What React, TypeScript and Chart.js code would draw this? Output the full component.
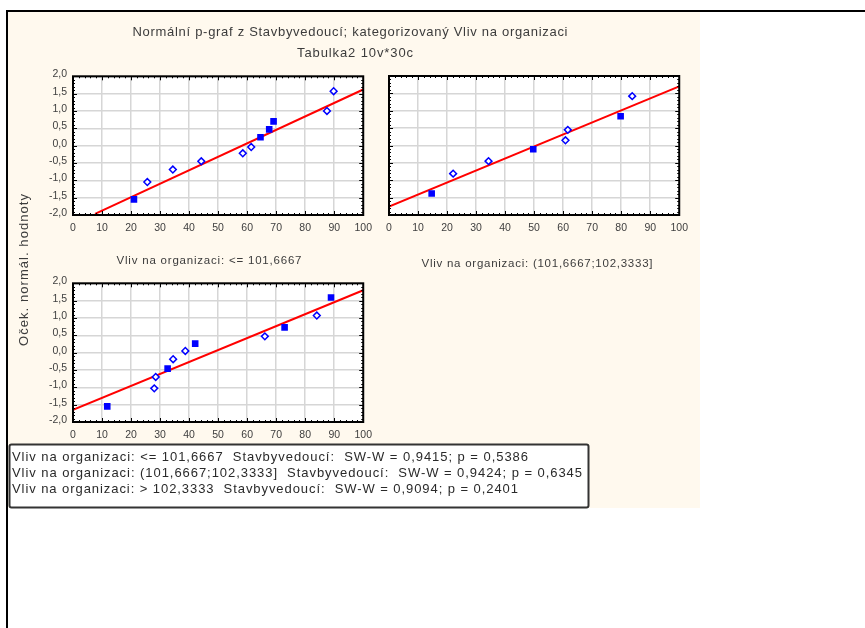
import React, { useEffect, useRef } from "react";
import { Chart, registerables } from "chart.js";
Chart.register(...registerables);

// ---- data ----
const xMin = 0;
const xMax = 100;
const yMin = -2;
const yMax = 2;

// Panel 1: Vliv na organizaci <= 101,6667
const panel1X = [21.0, 25.6, 34.4, 44.2, 58.5, 61.4, 64.6, 67.6, 69.1, 87.5, 89.8];
const panel1Y = [-1.55, -1.05, -0.69, -0.45, -0.22, -0.04, 0.24, 0.47, 0.7, 1.0, 1.57];
const panel1Filled = [1, 0, 0, 0, 0, 0, 1, 1, 1, 0, 0];
const fit1X = [7.6, 100];
const fit1Y = [-1.97, 1.62];

// Panel 2: Vliv na organizaci (101,6667;102,3333]
const panel2X = [14.7, 22.1, 34.3, 49.7, 60.8, 61.6, 79.8, 83.8];
const panel2Y = [-1.38, -0.81, -0.45, -0.11, 0.15, 0.45, 0.84, 1.42];
const panel2Filled = [1, 0, 0, 1, 0, 0, 1, 0];
const fit2X = [0, 100];
const fit2Y = [-1.76, 1.7];

// Panel 3: Vliv na organizaci > 102,3333
const panel3X = [11.8, 28.0, 28.5, 32.6, 34.5, 38.7, 42.1, 66.1, 72.9, 84.0, 88.9];
const panel3Y = [-1.55, -1.03, -0.7, -0.46, -0.19, 0.05, 0.26, 0.47, 0.73, 1.07, 1.59];
const panel3Filled = [1, 0, 0, 1, 0, 0, 1, 0, 1, 0, 1];
const fit3X = [0, 100];
const fit3Y = [-1.65, 1.8];

const titleLine1 = "Normální p-graf z Stavbyvedoucí; kategorizovaný Vliv na organizaci";
const titleLine2 = "Tabulka2 10v*30c";
const subtitle1 = "Vliv na organizaci: <= 101,6667";
const subtitle2 = "Vliv na organizaci: (101,6667;102,3333]";
const yAxisTitle = "Oček. normál. hodnoty";
const legendLines = [
  "Vliv na organizaci: <= 101,6667  Stavbyvedoucí:  SW-W = 0,9415; p = 0,5386",
  "Vliv na organizaci: (101,6667;102,3333]  Stavbyvedoucí:  SW-W = 0,9424; p = 0,6345",
  "Vliv na organizaci: > 102,3333  Stavbyvedoucí:  SW-W = 0,9094; p = 0,2401",
];

const FONT = '"Liberation Sans", Arial, Helvetica, sans-serif';

const framePlugin = {
  id: "frame",
  beforeDraw(chart: any) {
    const { ctx, chartArea } = chart;
    const { left, right, top, bottom } = chartArea;
    ctx.save();
    ctx.fillStyle = "#ffffff";
    ctx.fillRect(left, top, right - left, bottom - top);
    ctx.restore();
  },
  afterDraw(chart: any) {
    const { ctx, chartArea, scales } = chart;
    const { left, right, top, bottom } = chartArea;
    const x = scales.x;
    const y = scales.y;
    ctx.save();
    ctx.strokeStyle = "#000000";
    ctx.lineWidth = 1;
    ctx.beginPath();
    for (let i = 0; i <= 50; i++) {
      const v = xMin + (i * (xMax - xMin)) / 50;
      const px = Math.round(x.getPixelForValue(v)) + 0.5;
      const len = i % 5 === 0 ? 4 : 2;
      ctx.moveTo(px, top);
      ctx.lineTo(px, top + len);
      ctx.moveTo(px, bottom);
      ctx.lineTo(px, bottom - len);
    }
    for (let i = 0; i <= 40; i++) {
      const v = yMin + (i * (yMax - yMin)) / 40;
      const py = Math.round(y.getPixelForValue(v)) + 0.5;
      const len = i % 5 === 0 ? 4 : 2;
      ctx.moveTo(left, py);
      ctx.lineTo(left + len, py);
      ctx.moveTo(right, py);
      ctx.lineTo(right - len, py);
    }
    ctx.stroke();
    ctx.lineWidth = 2;
    ctx.strokeRect(left, top, right - left, bottom - top);
    ctx.restore();
  },
};

type PanelProps = {
  xs: number[];
  ys: number[];
  filled: number[];
  fx: number[];
  fy: number[];
  left: number;
  top: number;
  plotW: number;
  plotH: number;
  showY: boolean;
};

const PAD_LEFT = 40;
const PAD_TOP = 12;
const PAD_RIGHT = 14;
const PAD_BOTTOM = 24;

function Panel({ xs, ys, filled, fx, fy, left, top, plotW, plotH, showY }: PanelProps) {
  const ref = useRef<HTMLCanvasElement | null>(null);
  const w = plotW + PAD_LEFT + PAD_RIGHT;
  const h = plotH + PAD_TOP + PAD_BOTTOM;
  useEffect(() => {
    if (!ref.current) return;
    const chart = new Chart(ref.current, {
      type: "scatter",
      data: {
        datasets: [
          {
            data: xs.map((x, i) => ({ x, y: ys[i] })),
            pointStyle: filled.map((f) => (f ? "rect" : "rectRot")) as any,
            pointRadius: filled.map((f) => (f ? 3.6 : 3.4)) as any,
            backgroundColor: filled.map((f) => (f ? "#0000ff" : "#ffffff")) as any,
            borderColor: "#0000ff",
            borderWidth: 1.5,
            order: 0,
          },
          {
            data: fx.map((x, i) => ({ x, y: fy[i] })),
            showLine: true,
            borderColor: "#ff0000",
            borderWidth: 2,
            pointRadius: 0,
            fill: false,
            order: 1,
          } as any,
        ],
      },
      options: {
        animation: false,
        responsive: false,
        maintainAspectRatio: false,
        layout: { padding: { top: PAD_TOP, right: PAD_RIGHT, left: 0, bottom: 0 } },
        plugins: { legend: { display: false }, tooltip: { enabled: false }, title: { display: false } },
        scales: {
          x: {
            type: "linear",
            min: xMin,
            max: xMax,
            ticks: {
              stepSize: 10,
              maxRotation: 0,
              autoSkip: false,
              padding: 7,
              color: "#404040",
              font: { family: FONT, size: 10.5 },
            },
            grid: { color: "#d6d6d6", lineWidth: 1.5, drawTicks: false },
            border: { display: false },
            afterFit: (s: any) => {
              s.height = PAD_BOTTOM;
            },
          },
          y: {
            type: "linear",
            min: yMin,
            max: yMax,
            ticks: {
              display: showY,
              stepSize: 0.5,
              autoSkip: false,
              padding: 6,
              labelOffset: -2,
              color: "#404040",
              font: { family: FONT, size: 10.5 },
              callback: (v: any) => Number(v).toFixed(1).replace(".", ","),
            },
            grid: { color: "#d6d6d6", lineWidth: 1.5, drawTicks: false },
            border: { display: false },
            afterFit: (s: any) => {
              s.width = PAD_LEFT;
            },
          },
        },
      } as any,
      plugins: [framePlugin],
    });
    return () => chart.destroy();
  }, []);
  return (
    <canvas
      ref={ref}
      width={w}
      height={h}
      style={{ position: "absolute", left: left - PAD_LEFT, top: top - PAD_TOP, width: w, height: h }}
    />
  );
}

const pre: React.CSSProperties = { whiteSpace: "pre" };

export default function App() {
  return (
    <div style={{ position: "absolute", left: 0, top: 0, width: 865, height: 628, overflow: "hidden", background: "#ffffff" }}>
      <div
        style={{
          position: "absolute",
          left: 6,
          top: 10,
          width: 859,
          height: 618,
          borderTop: "2px solid #000",
          borderLeft: "2px solid #000",
          boxSizing: "border-box",
        }}
      />
      <div style={{ position: "absolute", left: 8, top: 12, width: 692, height: 496, background: "#fff9ee" }} />
      <Panel xs={panel1X} ys={panel1Y} filled={panel1Filled} fx={fit1X} fy={fit1Y} left={73} top={76} plotW={292} plotH={139} showY={true} />
      <Panel xs={panel2X} ys={panel2Y} filled={panel2Filled} fx={fit2X} fy={fit2Y} left={389} top={76} plotW={292} plotH={139} showY={false} />
      <Panel xs={panel3X} ys={panel3Y} filled={panel3Filled} fx={fit3X} fy={fit3Y} left={73} top={283} plotW={292} plotH={139} showY={true} />
      <svg
        width={865}
        height={628}
        style={{ position: "absolute", left: 0, top: 0, pointerEvents: "none" }}
        fontFamily={FONT}
      >
        <text x={350} y={36} fontSize={13} fill="#3c3c3c" textAnchor="middle" textLength={435} lengthAdjust="spacing" style={pre}>
          {titleLine1}
        </text>
        <text x={355} y={57} fontSize={13} fill="#3c3c3c" textAnchor="middle" textLength={116} lengthAdjust="spacing" style={pre}>
          {titleLine2}
        </text>
        <text x={209} y={264} fontSize={11.5} fill="#3c3c3c" textAnchor="middle" textLength={185} lengthAdjust="spacing" style={pre}>
          {subtitle1}
        </text>
        <text x={537} y={267} fontSize={11.5} fill="#3c3c3c" textAnchor="middle" textLength={231} lengthAdjust="spacing" style={pre}>
          {subtitle2}
        </text>
        <text
          x={0}
          y={0}
          fontSize={13}
          fill="#3c3c3c"
          textAnchor="middle"
          textLength={152}
          lengthAdjust="spacing"
          transform="translate(28,270) rotate(-90)"
          style={pre}
        >
          {yAxisTitle}
        </text>
        <rect x={9.5} y={444.5} width={579} height={63} rx={2} fill="#ffffff" stroke="#333333" strokeWidth={2} />
        <text x={12} y={461} fontSize={13} fill="#2a2a2a" textLength={516} lengthAdjust="spacing" style={pre}>
          {legendLines[0]}
        </text>
        <text x={12} y={477} fontSize={13} fill="#2a2a2a" textLength={570} lengthAdjust="spacing" style={pre}>
          {legendLines[1]}
        </text>
        <text x={12} y={493} fontSize={13} fill="#2a2a2a" textLength={506} lengthAdjust="spacing" style={pre}>
          {legendLines[2]}
        </text>
      </svg>
    </div>
  );
}
